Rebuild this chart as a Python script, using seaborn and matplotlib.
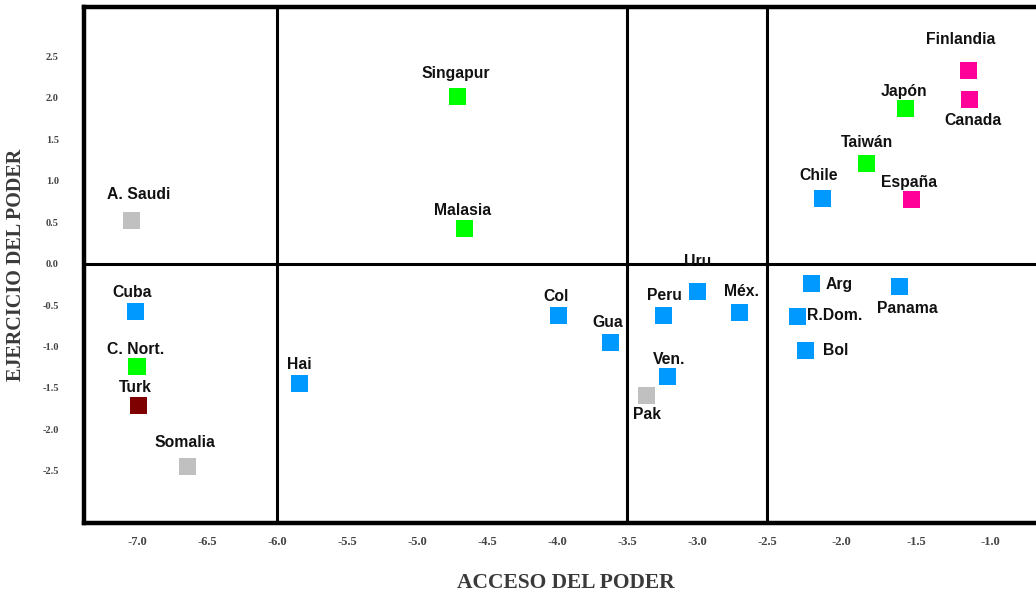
import matplotlib
matplotlib.use("Agg")
import matplotlib.pyplot as plt
import seaborn as sns
import pandas as pd
import numpy as np

# --- Datos ---
PAISES = ["A. Saudi", "Cuba", "C. Nort.", "Turk", "Somalia", "Hai", "Singapur", "Malasia",
          "Col", "Gua", "Peru", "Uru", "Méx.", "Ven.", "Pak", "Chile", "Taiwán", "Japón",
          "Finlandia", "Canada", "España", "Arg", "Panama", "R.Dom.", "Bol"]
ACCESO = [-7.04, -7.01, -7.00, -6.99, -6.64, -5.84, -4.71, -4.66,
          -3.99, -3.62, -3.24, -3.00, -2.70, -3.21, -3.36, -2.13, -1.83, -1.57,
          -1.15, -1.14, -1.53, -2.20, -1.61, -2.30, -2.24]
EJERCICIO = [0.52, -0.58, -1.24, -1.71, -2.45, -1.45, 2.02, 0.43,
             -0.63, -0.95, -0.62, -0.34, -0.59, -1.36, -1.59, 0.79, 1.21, 1.87,
             2.33, 1.98, 0.77, -0.24, -0.27, -0.64, -1.05]
GRUPO = ["gris", "azul", "verde", "granate", "gris", "azul", "verde", "verde",
         "azul", "azul", "azul", "azul", "azul", "azul", "gris", "azul", "verde", "verde",
         "rosa", "rosa", "rosa", "azul", "azul", "azul", "azul"]

X_TICKS = [-7.0, -6.5, -6.0, -5.5, -5.0, -4.5, -4.0, -3.5, -3.0, -2.5, -2.0, -1.5, -1.0]
X_TICKLABELS = ["-7.0", "-6.5", "-6.0", "-5.5", "-5.0", "-4.5", "-4.0", "-3.5", "-3.0",
                "-2.5", "-2.0", "-1.5", "-1.0"]
Y_TICKS = [2.5, 2.0, 1.5, 1.0, 0.5, 0.0, -0.5, -1.0, -1.5, -2.0, -2.5]
CORTES_X = [-6.0, -3.5, -2.5]
CORTE_Y = 0.0

# --- Estilo ---
colores = {"gris": "#c0c0c0", "azul": "#0099ff", "verde": "#00ff00",
           "granate": "#7f0000", "rosa": "#ff0099"}

# desplazamiento de etiquetas (pixeles, respecto al marcador)
offsets = {
    "A. Saudi": (7, 26), "Cuba": (-3, 19), "C. Nort.": (-1, 17), "Turk": (-3, 18),
    "Somalia": (-2, 24), "Hai": (0, 19), "Singapur": (-2, 23), "Malasia": (-2, 18),
    "Col": (-3, 19), "Gua": (-3, 20), "Peru": (1, 20), "Uru": (0, 30), "Méx.": (2, 21),
    "Ven.": (1, 17), "Pak": (0, -19), "Chile": (-4, 23), "Taiwán": (0, 21),
    "Japón": (-2, 17), "Finlandia": (-7, 31), "Canada": (3, -21), "España": (-3, 17),
    "Arg": (27, -1), "Panama": (8, -22), "R.Dom.": (38, 1), "Bol": (30, 0),
}

# el eje original está algo más estirado a la derecha de -2.5
K = 1.062


def fwd(x):
    x = np.asarray(x, dtype=float)
    return np.where(x <= -2.5, x, -2.5 + (x + 2.5) * K)


def inv(y):
    y = np.asarray(y, dtype=float)
    return np.where(y <= -2.5, y, -2.5 + (y + 2.5) / K)


df = pd.DataFrame({"pais": PAISES, "acceso": ACCESO, "ejercicio": EJERCICIO, "grupo": GRUPO})

sns.set_style("white")
fig = plt.figure(figsize=(10.36, 5.96), dpi=100)
ax = fig.add_axes([0.081, 0.1225, 0.93, 0.866])
ax.set_xscale("function", functions=(fwd, inv))

sns.scatterplot(data=df, x="acceso", y="ejercicio", hue="grupo", palette=colores,
                marker="s", s=150, linewidth=0, legend=False, ax=ax, zorder=3)

for v in CORTES_X:
    ax.axvline(v, color="black", linewidth=2.2, zorder=2)
ax.axhline(CORTE_Y, color="black", linewidth=2.2, zorder=2)

for nombre, xv, yv in zip(PAISES, ACCESO, EJERCICIO):
    dx, dy = offsets[nombre]
    ax.annotate(nombre, (xv, yv), xytext=(dx, dy), textcoords="offset pixels",
                ha="center", va="center", fontsize=11.3, fontweight="bold",
                family="Liberation Sans", color="#111111", zorder=4)

ax.set_xlim(-7.379, -0.617)
ax.set_ylim(-3.13, 3.10)
ax.set_xticks(X_TICKS)
ax.set_xticklabels(X_TICKLABELS)
ax.set_yticks(Y_TICKS)
ax.set_yticklabels([f"{t:.1f}" for t in Y_TICKS])

for s in ax.spines.values():
    s.set_linewidth(3.2)
    s.set_color("black")

ax.tick_params(axis="x", direction="out", length=6.5, width=2.2, color="black",
               labelsize=9, labelcolor="#444444", pad=3)
ax.tick_params(axis="y", direction="out", length=11, width=2.2, color="black",
               labelsize=7.5, labelcolor="#444444", pad=7)
for lab in ax.get_xticklabels() + ax.get_yticklabels():
    lab.set_family("Liberation Serif")
    lab.set_fontweight("bold")

ax.set_xlabel("ACCESO DEL PODER", fontsize=15.5, fontweight="bold",
              family="Liberation Serif", color="#3a3a3a", labelpad=18)
ax.set_ylabel("EJERCICIO DEL PODER", fontsize=14.5, fontweight="bold",
              family="Liberation Serif", color="#3a3a3a", labelpad=12)

fig.savefig("out.png", dpi=100)
